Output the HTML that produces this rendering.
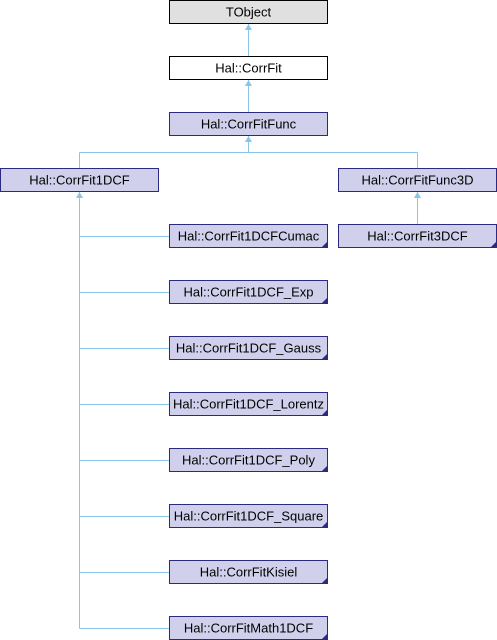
<!DOCTYPE html>
<html><head><meta charset="utf-8"><style>html,body{margin:0;padding:0;background:#fff}svg{display:block}text{font-family:"Liberation Sans",sans-serif;font-size:13px;fill:#000}</style></head><body>
<svg width="497" height="640" viewBox="0 0 497 640" xmlns="http://www.w3.org/2000/svg">
<g stroke="#87c6e8" stroke-width="1" fill="none">
<line x1="248.5" y1="24" x2="248.5" y2="56"/>
<line x1="248.5" y1="80" x2="248.5" y2="112"/>
<line x1="248.5" y1="136" x2="248.5" y2="152.5"/>
<line x1="79.5" y1="152.5" x2="417.5" y2="152.5"/>
<line x1="79.5" y1="152.5" x2="79.5" y2="168"/>
<line x1="417.5" y1="152.5" x2="417.5" y2="168"/>
<line x1="417.5" y1="192" x2="417.5" y2="224"/>
<line x1="79.5" y1="192" x2="79.5" y2="628.5"/>
<line x1="79.5" y1="236.5" x2="169" y2="236.5"/>
<line x1="79.5" y1="292.5" x2="169" y2="292.5"/>
<line x1="79.5" y1="348.5" x2="169" y2="348.5"/>
<line x1="79.5" y1="404.5" x2="169" y2="404.5"/>
<line x1="79.5" y1="460.5" x2="169" y2="460.5"/>
<line x1="79.5" y1="516.5" x2="169" y2="516.5"/>
<line x1="79.5" y1="572.5" x2="169" y2="572.5"/>
<line x1="79.5" y1="628.5" x2="169" y2="628.5"/>
</g>
<g fill="#87c6e8">
<polygon points="248.5,24 245,30 252,30"/>
<polygon points="248.5,80 245,86 252,86"/>
<polygon points="248.5,136 245,142 252,142"/>
<polygon points="79.5,192 76,198 83,198"/>
<polygon points="417.5,192 414,198 421,198"/>
</g>
<g stroke-width="1">
<rect x="169.5" y="0.5" width="158" height="23" fill="#e0e0e0" stroke="#000"/>
<rect x="169.5" y="56.5" width="158" height="23" fill="#fff" stroke="#000"/>
<rect x="169.5" y="112.5" width="158" height="23" fill="#d0d0ec" stroke="#2a2a80"/>
<rect x="0.5" y="168.5" width="158" height="23" fill="#d0d0ec" stroke="#2a2a80"/>
<rect x="338.5" y="168.5" width="158" height="23" fill="#d0d0ec" stroke="#2a2a80"/>
<rect x="338.5" y="224.5" width="158" height="23" fill="#d0d0ec" stroke="#2a2a80"/>
<rect x="169.5" y="224.5" width="158" height="23" fill="#d0d0ec" stroke="#2a2a80"/>
<rect x="169.5" y="280.5" width="158" height="23" fill="#d0d0ec" stroke="#2a2a80"/>
<rect x="169.5" y="336.5" width="158" height="23" fill="#d0d0ec" stroke="#2a2a80"/>
<rect x="169.5" y="392.5" width="158" height="23" fill="#d0d0ec" stroke="#2a2a80"/>
<rect x="169.5" y="448.5" width="158" height="23" fill="#d0d0ec" stroke="#2a2a80"/>
<rect x="169.5" y="504.5" width="158" height="23" fill="#d0d0ec" stroke="#2a2a80"/>
<rect x="169.5" y="560.5" width="158" height="23" fill="#d0d0ec" stroke="#2a2a80"/>
<rect x="169.5" y="616.5" width="158" height="23" fill="#d0d0ec" stroke="#2a2a80"/>
</g>
<g fill="#2a2a80">
<polygon points="327,242 327,247 322,247"/>
<polygon points="327,298 327,303 322,303"/>
<polygon points="327,354 327,359 322,359"/>
<polygon points="327,410 327,415 322,415"/>
<polygon points="327,466 327,471 322,471"/>
<polygon points="327,522 327,527 322,527"/>
<polygon points="327,578 327,583 322,583"/>
<polygon points="327,634 327,639 322,639"/>
<polygon points="496,242 496,247 491,247"/>
</g>
<g text-anchor="middle">
<text x="248.5" y="16.5">TObject</text>
<text x="248.5" y="72.5">Hal::CorrFit</text>
<text x="248.5" y="128.5">Hal::CorrFitFunc</text>
<text x="79.5" y="184.5">Hal::CorrFit1DCF</text>
<text x="417.5" y="184.5">Hal::CorrFitFunc3D</text>
<text x="417.5" y="240.5">Hal::CorrFit3DCF</text>
<text x="248.5" y="240.5">Hal::CorrFit1DCFCumac</text>
<text x="248.5" y="296.5">Hal::CorrFit1DCF_Exp</text>
<text x="248.5" y="352.5">Hal::CorrFit1DCF_Gauss</text>
<text x="248.5" y="408.5">Hal::CorrFit1DCF_Lorentz</text>
<text x="248.5" y="464.5">Hal::CorrFit1DCF_Poly</text>
<text x="248.5" y="520.5">Hal::CorrFit1DCF_Square</text>
<text x="248.5" y="576.5">Hal::CorrFitKisiel</text>
<text x="248.5" y="632.5">Hal::CorrFitMath1DCF</text>
</g>
</svg>
</body></html>
